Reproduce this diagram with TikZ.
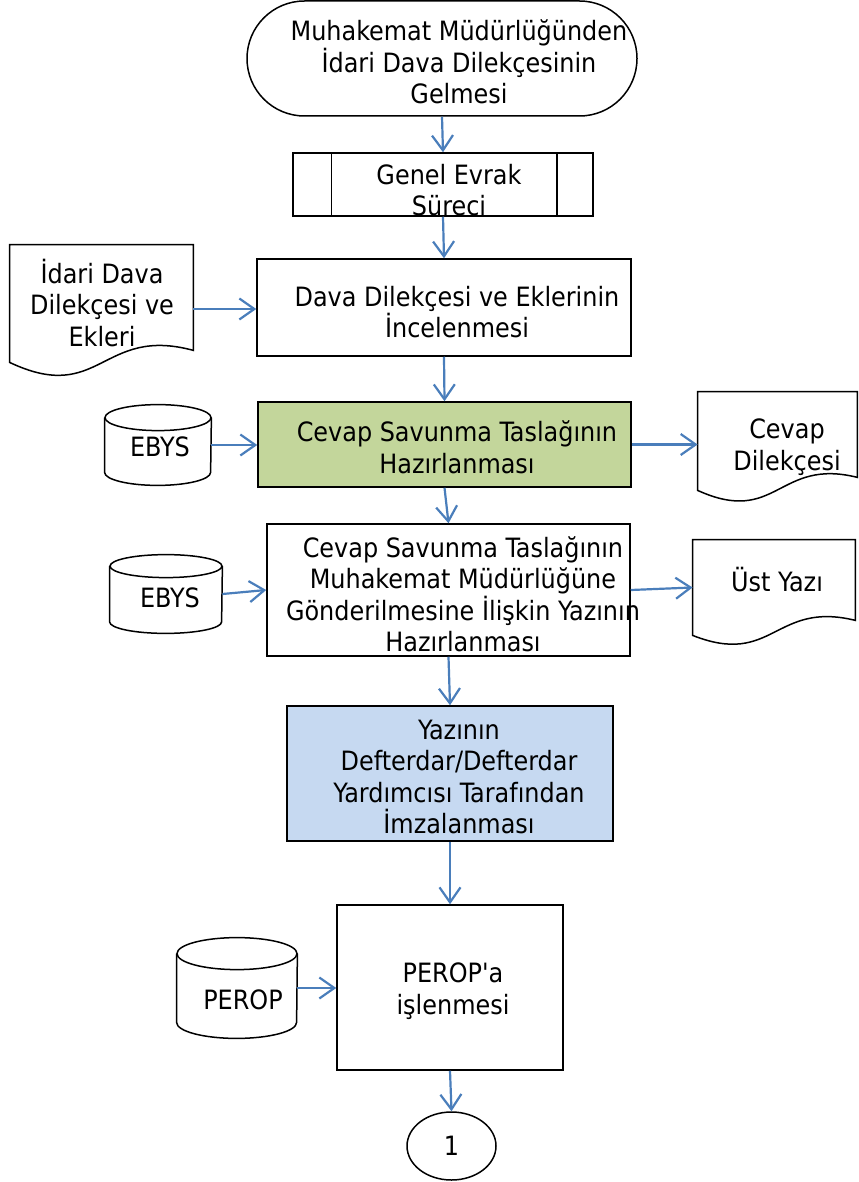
\documentclass[tikz,border=0pt]{standalone}
\usepackage{fontspec}
\setmainfont{DejaVu Sans Condensed}
\usetikzlibrary{arrows.meta,shapes.misc,shapes.geometric,calc}
\definecolor{arrowblue}{HTML}{4A7EBB}
\definecolor{boxgreen}{HTML}{C3D69B}
\definecolor{boxblue}{HTML}{C6D9F1}
\newcommand\drawcyl[3]{%
  \draw[shp] ($(#1.north west)+(0pt,-#3)$) -- ($(#1.south west)+(0pt,#3)$)
     arc[start angle=180,end angle=360,x radius=#2,y radius=#3]
     -- ($(#1.north east)+(0pt,-#3)$);
  \draw[shp] ($(#1.north)+(0pt,-#3)$) ellipse[x radius=#2,y radius=#3];}
\begin{document}
\begin{tikzpicture}[x=0.5pt,y=-0.5pt,
  font=\fontsize{13.3}{15.75}\selectfont,
  box/.style={draw,line width=0.75pt,inner sep=0pt},
  hold/.style={inner sep=0pt},
  txt/.style={align=center,inner sep=0pt},
  shp/.style={draw,line width=0.75pt},
  arr/.style={draw=arrowblue,line width=1.1pt,-{Straight Barb[length=7.5pt,width=10.5pt]}}]
\useasboundingbox (0,0) rectangle (858,1182);

% start terminal
\node[box,rounded rectangle,minimum width=195pt,minimum height=57.5pt] (b1) at (442,58.5) {};
\node[txt] (t1) at (459,62) {Muhakemat Müdürlüğünden\\İdari Dava Dilekçesinin\\Gelmesi};

% predefined process
\node[box,minimum width=150pt,minimum height=31.5pt] (b2) at (443,184.5) {};
\draw[shp] ([xshift=19.5pt]b2.north west) -- ([xshift=19.5pt]b2.south west);
\draw[shp] ([xshift=-18.5pt]b2.north east) -- ([xshift=-18.5pt]b2.south east);
\node[txt] (t2) at (449,190) {Genel Evrak\\Süreci};

% review
\node[box,minimum width=187pt,minimum height=48.5pt] (b3) at (444,307.5) {};
\node[txt] (t3) at (457,312) {Dava Dilekçesi ve Eklerinin\\İncelenmesi};

% document 1
\node[hold,minimum width=91.5pt,minimum height=58.5pt] (d1) at (101.5,303.5) {};
\draw[shp] (d1.north west) -- (d1.south west)
  .. controls +(45.5pt,-21.5pt) and +(-46pt,12.5pt) .. ($(d1.south east)+(0pt,6pt)$)
  -- (d1.north east) -- cycle;
\node[txt] (t4) at (102,303) {İdari Dava\\Dilekçesi ve\\Ekleri};

% green box
\node[box,fill=boxgreen,minimum width=186.5pt,minimum height=42.5pt] (b4) at (444.5,444.5) {};
\node[txt] (t5) at (457,447) {Cevap Savunma Taslağının\\Hazırlanması};

% EBYS 1
\node[hold,minimum width=53pt,minimum height=40pt] (e1) at (158,445) {};
\drawcyl{e1}{26.5pt}{6.5pt}
\node[txt] (t6) at (160,447) {EBYS};

% document 2
\node[hold,minimum width=79.5pt,minimum height=49pt] (d2) at (777.5,441) {};
\draw[shp] (d2.north west) -- (d2.south west)
  .. controls +(39.75pt,-18pt) and +(-39.75pt,10pt) .. ($(d2.south east)+(0pt,6.5pt)$)
  -- (d2.north east) -- cycle;
\node[txt] (t7) at (787,447) {Cevap\\Dilekçesi};

% box 5
\node[box,minimum width=181.5pt,minimum height=66pt] (b5) at (448.5,590) {};
\node[txt] (t8) at (463,594) {Cevap Savunma Taslağının\\Muhakemat Müdürlüğüne\\Gönderilmesine İlişkin Yazının\\Hazırlanması};

% EBYS 2
\node[hold,minimum width=56pt,minimum height=39pt] (e2) at (166,594) {};
\drawcyl{e2}{28pt}{5.75pt}
\node[txt] (t9) at (170,598) {EBYS};

% document 3
\node[hold,minimum width=81pt,minimum height=47.5pt] (d3) at (774,587.5) {};
\draw[shp] (d3.north west) -- (d3.south west)
  .. controls +(40.5pt,-16pt) and +(-40.5pt,10pt) .. ($(d3.south east)+(0pt,7.5pt)$)
  -- (d3.north east) -- cycle;
\node[txt] (t10) at (777,580) {Üst Yazı};

% blue box
\node[box,fill=boxblue,minimum width=163pt,minimum height=67.5pt] (b6) at (450,773.5) {};
\node[txt] (t11) at (459,777) {Yazının\\Defterdar/Defterdar\\Yardımcısı Tarafından\\İmzalanması};

% box 7
\node[box,minimum width=113pt,minimum height=82.5pt] (b7) at (450,987.5) {};
\node[txt] (t12) at (453,991) {PEROP\textquotesingle a\\işlenmesi};

% PEROP
\node[hold,minimum width=60pt,minimum height=50pt] (e3) at (237,988) {};
\drawcyl{e3}{30pt}{8pt}
\node[txt] (t13) at (243,1000) {PEROP};

% connector circle
\node[box,ellipse,minimum width=44.5pt,minimum height=34pt] (c1) at (451.5,1146) {1};

% arrows
\draw[arr] (b1.south) -- (b2.north);
\draw[arr] (b2.south) -- (b3.north);
\draw[arr] ([yshift=-2.75pt]d1.east) -- ([yshift=-2.75pt]d1.east -| b3.west);
\draw[arr] (b3.south) -- (b4.north);
\draw[arr] (e1.east) -- (e1.east -| b4.west);
\draw[arr] (b4.east) -- (b4.east -| d2.west);
\draw[arr] (b4.south) -- (b5.north);
\draw[arr] (e2.east) -- (b5.west);
\draw[arr] (b5.east) -- (d3.west);
\draw[arr] (b5.south) -- (b6.north);
\draw[arr] (b6.south) -- (b7.north);
\draw[arr] (e3.east) -- (e3.east -| b7.west);
\draw[arr] (b7.south) -- (c1.north);
\end{tikzpicture}
\end{document}
